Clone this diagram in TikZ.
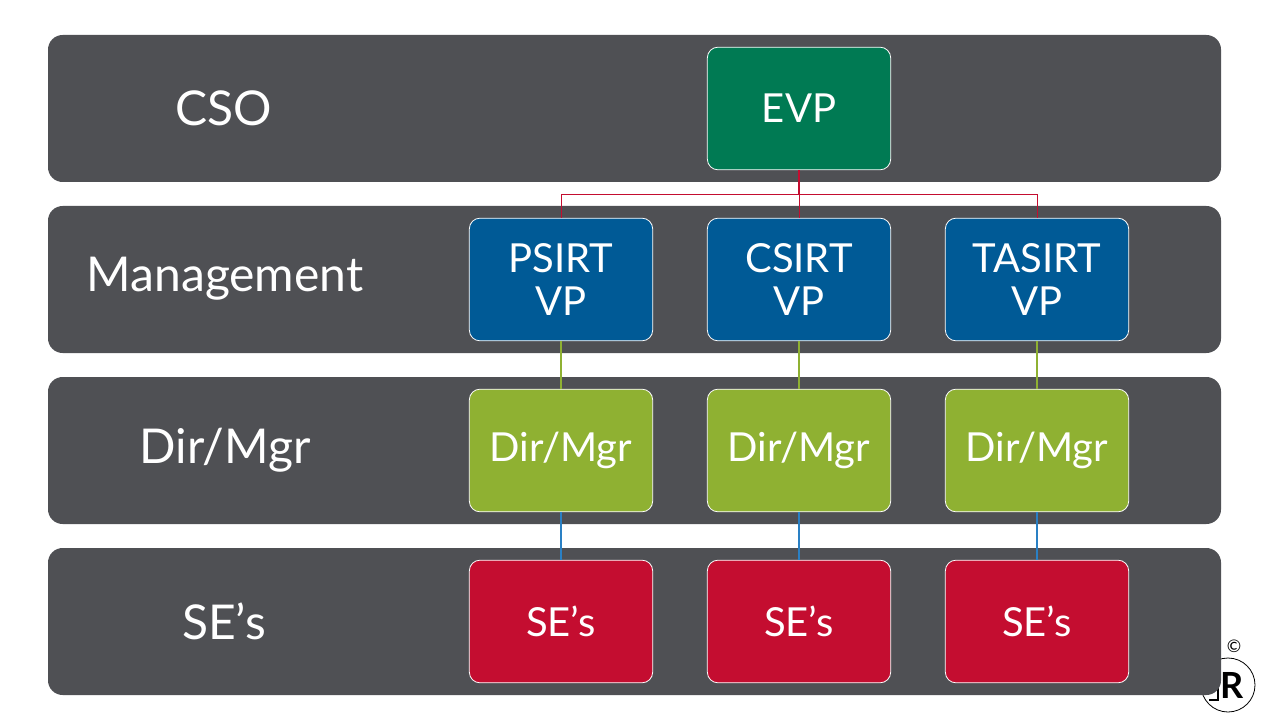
\documentclass[tikz,border=0pt]{standalone}
\usepackage{fontspec}
\setmainfont{Lato}
\definecolor{bandgray}{HTML}{4F5054}
\definecolor{evpgreen}{HTML}{007A53}
\definecolor{vpblue}{HTML}{005A96}
\definecolor{mgrgreen}{HTML}{8FB132}
\definecolor{sered}{HTML}{C40D30}
\definecolor{linkblue}{HTML}{2A80C4}
\tikzset{
  band/.style={fill=bandgray,rounded corners=11pt},
  bandlabel/.style={text=white,font=\fontsize{36}{36}\selectfont},
  orgbox/.style={draw=white,line width=0.6pt,rounded corners=8pt,minimum width=137.5pt,minimum height=92pt,inner sep=0pt,align=center,text=white,font=\fontsize{30}{32}\selectfont},
  link/.style={line width=0.8pt}
}
\begin{document}
\begin{tikzpicture}[x=0.75pt,y=-0.75pt]
            \useasboundingbox (0,0) rectangle (1280,720);
            % logo
            \draw[line width=0.6pt] (1228,685) circle (27);
            \node[inner sep=0pt,font=\fontsize{13}{13}\selectfont] (copy) at (1234,646) {\textcopyright};
            \node[inner sep=0pt,font=\bfseries\fontsize{27}{27}\selectfont] (logoR) at (1232,685) {R};
            \draw[line width=2pt] (1218,676) -- (1218,700) -- (1209,700);
            % bands
            \foreach \y in {35,206,377,548}
            \fill[band] (48,\y) rectangle (1221,\y+147);
            \node[bandlabel] (cso) at (224,108) {CSO};
            \node[bandlabel] (management) at (225,279) {Management};
            \node[bandlabel] (dirmgr) at (225,450) {Dir/Mgr};
            \node[bandlabel] (ses) at (224,621) {SE’s};
            % boxes
            \node[orgbox,fill=evpgreen] (evp) at (799,108.5) {EVP};
            \node[orgbox,fill=vpblue] (psirt) at (561,279.5) {PSIRT\\VP};
            \node[orgbox,fill=vpblue] (csirt) at (799,279.5) {CSIRT\\VP};
            \node[orgbox,fill=vpblue] (tasirt) at (1037,279.5) {TASIRT\\VP};
            \foreach \n/\x in {a/561,b/799,c/1037}{
            \node[orgbox,fill=mgrgreen] (mgr\n) at (\x,450.5) {Dir/Mgr};
            \node[orgbox,fill=sered] (se\n) at (\x,621.5) {SE’s};
            }
            % links
            \coordinate (bus) at (799,194);
            \draw[link,sered] (evp.south) -- (bus);
            \draw[link,sered,line width=0.5pt] (bus) -| (psirt.north);
            \draw[link,sered,line width=0.5pt] (bus) -- (csirt.north);
            \draw[link,sered,line width=0.5pt] (bus) -| (tasirt.north);
            \draw[link,mgrgreen] (psirt.south) -- (mgra.north);
            \draw[link,mgrgreen] (csirt.south) -- (mgrb.north);
            \draw[link,mgrgreen] (tasirt.south) -- (mgrc.north);
            \draw[link,linkblue] (mgra.south) -- (sea.north);
            \draw[link,linkblue] (mgrb.south) -- (seb.north);
            \draw[link,linkblue] (mgrc.south) -- (sec.north);
\end{tikzpicture}
\end{document}
